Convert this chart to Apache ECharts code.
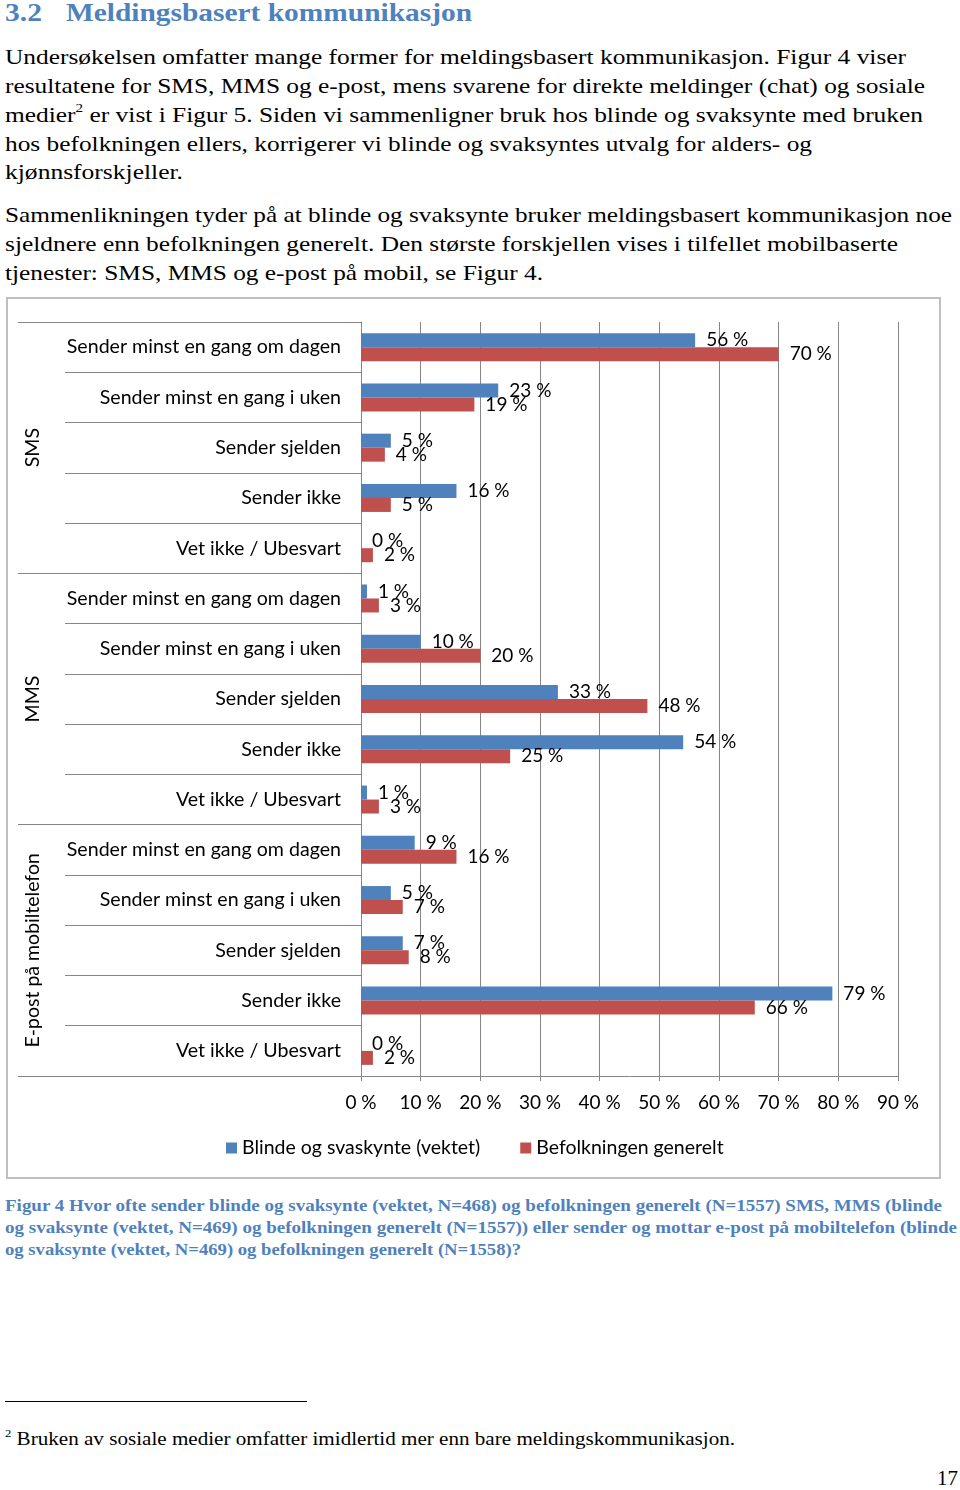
<!DOCTYPE html>
<html><head><meta charset="utf-8">
<script src="https://cdn.jsdelivr.net/npm/echarts@6/dist/echarts.min.js"></script>
<style>
html,body{margin:0;padding:0;background:#fff;}
#page{position:relative;width:960px;height:1490px;overflow:hidden;background:#fff;}
.t{position:absolute;white-space:nowrap;transform-origin:0 0;color:#000;}
.body{font-family:"Liberation Serif","Times New Roman",serif;font-size:22px;line-height:29px;}
.head{font-family:"Liberation Serif","Times New Roman",serif;font-size:26px;line-height:30px;font-weight:bold;color:#4F81BD;}
.cap{font-family:"Liberation Serif","Times New Roman",serif;font-size:16px;line-height:22px;font-weight:bold;color:#4F81BD;}
.foot{font-family:"Liberation Serif","Times New Roman",serif;font-size:18px;line-height:22px;}
sup{font-size:0.6em;line-height:0;vertical-align:0.75em;}
#chart{position:absolute;left:0;top:290px;width:960px;height:900px;}
#rule{position:absolute;left:5px;top:1401px;width:302px;height:1px;background:#000;}
</style>
</head>
<body>
<div id="page">
  <div class="t head" style="left:5px;top:-2px" data-w="37">3.2</div>
  <div class="t head" style="left:66px;top:-2px" data-w="406">Meldingsbasert kommunikasjon</div>

  <div class="t body" style="left:5px;top:42px" data-w="901">Undersøkelsen omfatter mange former for meldingsbasert kommunikasjon. Figur 4 viser</div>
  <div class="t body" style="left:5px;top:71px" data-w="920">resultatene for SMS, MMS og e-post, mens svarene for direkte meldinger (chat) og sosiale</div>
  <div class="t body" style="left:5px;top:100px" data-w="918">medier<sup>2</sup> er vist i Figur 5. Siden vi sammenligner bruk hos blinde og svaksynte med bruken</div>
  <div class="t body" style="left:5px;top:129px" data-w="807">hos befolkningen ellers, korrigerer vi blinde og svaksyntes utvalg for alders- og</div>
  <div class="t body" style="left:5px;top:157px" data-w="178">kjønnsforskjeller.</div>

  <div class="t body" style="left:5px;top:200px" data-w="947">Sammenlikningen tyder på at blinde og svaksynte bruker meldingsbasert kommunikasjon noe</div>
  <div class="t body" style="left:5px;top:229px" data-w="893">sjeldnere enn befolkningen generelt. Den største forskjellen vises i tilfellet mobilbaserte</div>
  <div class="t body" style="left:5px;top:258px" data-w="538">tjenester: SMS, MMS og e-post på mobil, se Figur 4.</div>

  <div id="chart"></div>

  <div class="t cap" style="left:5px;top:1195px" data-w="937">Figur 4 Hvor ofte sender blinde og svaksynte (vektet, N=468) og befolkningen generelt (N=1557) SMS, MMS (blinde</div>
  <div class="t cap" style="left:5px;top:1217px" data-w="952">og svaksynte (vektet, N=469) og befolkningen generelt (N=1557)) eller sender og mottar e-post på mobiltelefon (blinde</div>
  <div class="t cap" style="left:5px;top:1239px" data-w="516">og svaksynte (vektet, N=469) og befolkningen generelt (N=1558)?</div>

  <div id="rule"></div>
  <div class="t foot" style="left:5px;top:1428px" data-w="730"><sup>2</sup> Bruken av sosiale medier omfatter imidlertid mer enn bare meldingskommunikasjon.</div>
  <div class="t body" style="left:937px;top:1465px;font-size:22px;line-height:26px" data-w="21">17</div>
</div>
<script>
// ---- data ----
const groups = ['SMS', 'MMS', 'E-post på mobiltelefon'];
const items = ['Sender minst en gang om dagen', 'Sender minst en gang i uken', 'Sender sjelden', 'Sender ikke', 'Vet ikke / Ubesvart'];
const categories = [].concat(items, items, items);
const seriesNames = ['Blinde og svaskynte (vektet)', 'Befolkningen generelt'];
const blinde = [56, 23, 5, 16, 0, 1, 10, 33, 54, 1, 9, 5, 7, 79, 0];
const befolkningen = [70, 19, 4, 5, 2, 3, 20, 48, 25, 3, 16, 7, 8, 66, 2];
const xMin = 0, xMax = 90, xStep = 10;

function fit() {
  document.querySelectorAll('[data-w]').forEach(function (el) {
    el.style.transform = 'none';
    const w = el.getBoundingClientRect().width;
    if (w > 0) el.style.transform = 'scaleX(' + (+el.dataset.w / w) + ')';
  });
}
fit();
if (document.fonts && document.fonts.ready) document.fonts.ready.then(fit);

const FONT = 'Lato, "Open Sans", sans-serif';
const GRAY = '#868686';
const chart = echarts.init(document.getElementById('chart'), null, { renderer: 'canvas' });
const labelCfg = { show: true, position: 'right', distance: 11, formatter: '{c} %', fontSize: 19, color: '#000', fontFamily: FONT };
chart.setOption({
  animation: false,
  textStyle: { fontFamily: FONT },
  color: ['#4F81BD', '#C0504D'],
  grid: { left: 361, top: 32, width: 537, height: 754, containLabel: false },
  legend: {
    data: seriesNames, left: 226, top: 847, padding: 0, icon: 'rect', itemWidth: 11, itemHeight: 11, itemGap: 40,
    textStyle: { fontFamily: FONT, fontSize: 19.5, color: '#000', lineHeight: 22 }
  },
  xAxis: {
    type: 'value', min: xMin, max: xMax, interval: xStep,
    axisLine: { show: true, lineStyle: { color: GRAY } },
    axisTick: { show: true, length: 5, lineStyle: { color: GRAY } },
    splitLine: { show: true, lineStyle: { color: GRAY, width: 1 } },
    axisLabel: { formatter: '{value} %', fontSize: 19, color: '#000', margin: 17, fontFamily: FONT }
  },
  yAxis: [
    {
      type: 'category', data: categories, inverse: true,
      axisLine: { show: true, lineStyle: { color: GRAY } },
      axisTick: { show: true, interval: 0, length: 296, lineStyle: { color: GRAY } },
      axisLabel: { interval: 0, fontSize: 19.6, color: '#000', margin: 20, fontFamily: FONT }
    },
    {
      type: 'category', data: groups, inverse: true, position: 'left',
      axisLine: { show: false },
      axisTick: { show: true, interval: 0, length: 343, lineStyle: { color: GRAY } },
      axisLabel: { interval: 0, rotate: 90, fontSize: 19.5, color: '#000', margin: 318, fontFamily: FONT }
    }
  ],
  series: [
    { name: seriesNames[0], type: 'bar', yAxisIndex: 0, data: blinde, barWidth: 14, barGap: '0%', label: labelCfg },
    { name: seriesNames[1], type: 'bar', yAxisIndex: 0, data: befolkningen, barWidth: 14, barGap: '0%', label: labelCfg }
  ],
  graphic: [
    { type: 'rect', silent: true, z: -1, shape: { x: 7, y: 8, width: 933, height: 880 }, style: { fill: 'none', stroke: '#BFBFBF', lineWidth: 2 } }
  ]
});
</script>
</body></html>
